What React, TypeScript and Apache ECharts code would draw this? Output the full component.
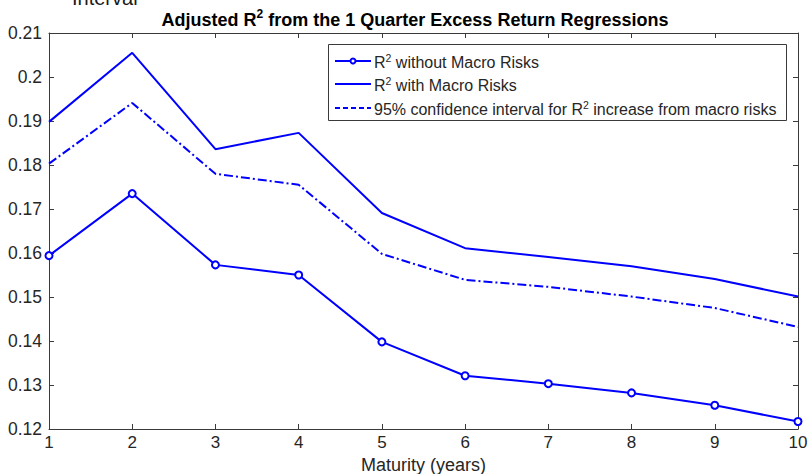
import React, { useEffect, useRef } from "react";
import * as echarts from "echarts";

// Maturities in years
const maturities = [1, 2, 3, 4, 5, 6, 7, 8, 9, 10];

// Adjusted R² of the 1-quarter excess return regressions
const r2WithoutMacro = [0.1594, 0.1735, 0.1573, 0.1550, 0.1398, 0.1321, 0.1303, 0.1282, 0.1254, 0.1217];
const r2WithMacro = [0.1898, 0.2055, 0.1836, 0.1873, 0.1691, 0.1611, 0.1591, 0.1570, 0.1541, 0.1501];
const ciIncrease = [0.1803, 0.1941, 0.1780, 0.1755, 0.1598, 0.1539, 0.1523, 0.1501, 0.1475, 0.1432];

const yTicks = [0.12, 0.13, 0.14, 0.15, 0.16, 0.17, 0.18, 0.19, 0.2, 0.21];

const BLUE = "#0000ff";
const AXIS = "#3a3a3a";
const TEXT = "#262626";
const FONT = "'Liberation Sans', Arial, Helvetica, sans-serif";

const pairs = (ys: number[]) => maturities.map((m, i) => [m, ys[i]]);

export default function App() {
  const ref = useRef<HTMLDivElement>(null);

  useEffect(() => {
    if (!ref.current) return;
    const chart = echarts.init(ref.current, null, { renderer: "svg" });

    const axisCommon = {
      type: "value" as const,
      axisLine: { show: true, onZero: false, lineStyle: { color: AXIS, width: 1 } },
      axisTick: { show: true, inside: true, length: 5, lineStyle: { color: AXIS, width: 1 } },
      splitLine: { show: false },
    };

    const legendX = 328;
    const legendY = 44;
    const rowY = [61, 84, 108];
    const sampleX0 = 335;
    const sampleX1 = 371;
    const textX = 374;
    const legendRich = {
      n: { fontSize: 16, fontFamily: FONT, fill: TEXT, lineHeight: 18, verticalAlign: "bottom" },
      s: { fontSize: 10.5, fontFamily: FONT, fill: TEXT, lineHeight: 18, verticalAlign: "top" },
    };

    chart.setOption({
      animation: false,
      backgroundColor: "#ffffff",
      grid: { left: 49, right: 14, top: 33, bottom: 45, containLabel: false, outerBoundsMode: "none" },
      xAxis: [
        {
          ...axisCommon,
          position: "bottom",
          min: 1,
          max: 10,
          interval: 1,
          name: "Maturity (years)",
          nameLocation: "middle",
          nameGap: 23,
          nameTextStyle: { color: TEXT, fontSize: 18, fontFamily: FONT },
          axisLabel: { color: TEXT, fontSize: 17, fontFamily: FONT, margin: 5 },
        },
        {
          ...axisCommon,
          position: "top",
          min: 1,
          max: 10,
          interval: 1,
          axisLabel: { show: false },
        },
      ],
      yAxis: [
        {
          ...axisCommon,
          position: "left",
          min: yTicks[0],
          max: yTicks[yTicks.length - 1],
          interval: 0.01,
          axisLabel: {
            color: TEXT,
            fontSize: 17.5,
            fontFamily: FONT,
            margin: 7,
            formatter: (v: number) => String(+v.toFixed(2)),
          },
        },
        {
          ...axisCommon,
          position: "right",
          min: yTicks[0],
          max: yTicks[yTicks.length - 1],
          interval: 0.01,
          axisLabel: { show: false },
        },
      ],
      series: [
        {
          name: "R2 without Macro Risks",
          type: "line",
          data: pairs(r2WithoutMacro),
          symbol: "emptyCircle",
          symbolSize: 7,
          showAllSymbol: true,
          lineStyle: { color: BLUE, width: 2 },
          itemStyle: { color: BLUE, borderColor: BLUE, borderWidth: 2 },
          z: 3,
        },
        {
          name: "R2 with Macro Risks",
          type: "line",
          data: pairs(r2WithMacro),
          symbol: "none",
          lineStyle: { color: BLUE, width: 2 },
          itemStyle: { color: BLUE },
        },
        {
          name: "95% confidence interval",
          type: "line",
          data: pairs(ciIncrease),
          symbol: "none",
          lineStyle: { color: BLUE, width: 2, type: [9, 3, 2, 3] },
          itemStyle: { color: BLUE },
        },
      ],
      graphic: [
        // caption fragment above the figure
        {
          type: "text",
          left: 72,
          top: -12,
          style: { text: "Interval", fontSize: 20, fontFamily: FONT, fill: "#1a1a1a" },
          silent: true,
        },
        // title
        {
          type: "text",
          x: 415,
          y: 18,
          style: {
            text: "{b|Adjusted R}{s|2}{b| from the 1 Quarter Excess Return Regressions}",
            align: "center",
            verticalAlign: "middle",
            rich: {
              b: { fontSize: 18, fontWeight: "bold", fontFamily: FONT, fill: "#000", lineHeight: 21, verticalAlign: "bottom" },
              s: { fontSize: 12, fontWeight: "bold", fontFamily: FONT, fill: "#000", lineHeight: 21, verticalAlign: "top" },
            },
          },
          silent: true,
        },
        // legend box
        {
          type: "group",
          silent: true,
          children: [
            {
              type: "rect",
              shape: { x: legendX + 0.5, y: legendY + 0.5, width: 458, height: 76 },
              style: { fill: "#ffffff", stroke: AXIS, lineWidth: 1 },
              z: 10,
            },
            {
              type: "line",
              shape: { x1: sampleX0, y1: rowY[0], x2: sampleX1, y2: rowY[0] },
              style: { stroke: BLUE, lineWidth: 2 },
              z: 11,
            },
            {
              type: "circle",
              shape: { cx: (sampleX0 + sampleX1) / 2, cy: rowY[0], r: 2.5 },
              style: { fill: "#ffffff", stroke: BLUE, lineWidth: 2 },
              z: 12,
            },
            {
              type: "line",
              shape: { x1: sampleX0, y1: rowY[1], x2: sampleX1, y2: rowY[1] },
              style: { stroke: BLUE, lineWidth: 2 },
              z: 11,
            },
            {
              type: "line",
              shape: { x1: sampleX0, y1: rowY[2], x2: sampleX1, y2: rowY[2] },
              style: { stroke: BLUE, lineWidth: 2, lineDash: [5, 3] },
              z: 11,
            },
            {
              type: "text",
              x: textX,
              y: rowY[0],
              style: { text: "{n|R}{s|2}{n| without Macro Risks}", verticalAlign: "middle", rich: legendRich },
              z: 11,
            },
            {
              type: "text",
              x: textX,
              y: rowY[1],
              style: { text: "{n|R}{s|2}{n| with Macro Risks}", verticalAlign: "middle", rich: legendRich },
              z: 11,
            },
            {
              type: "text",
              x: textX,
              y: rowY[2],
              style: {
                text: "{n|95% confidence interval for R}{s|2}{n| increase from macro risks}",
                verticalAlign: "middle",
                rich: legendRich,
              },
              z: 11,
            },
          ],
        },
      ],
    });

    return () => chart.dispose();
  }, []);

  return <div ref={ref} style={{ width: 812, height: 474, position: "absolute", left: 0, top: 0 }} />;
}
